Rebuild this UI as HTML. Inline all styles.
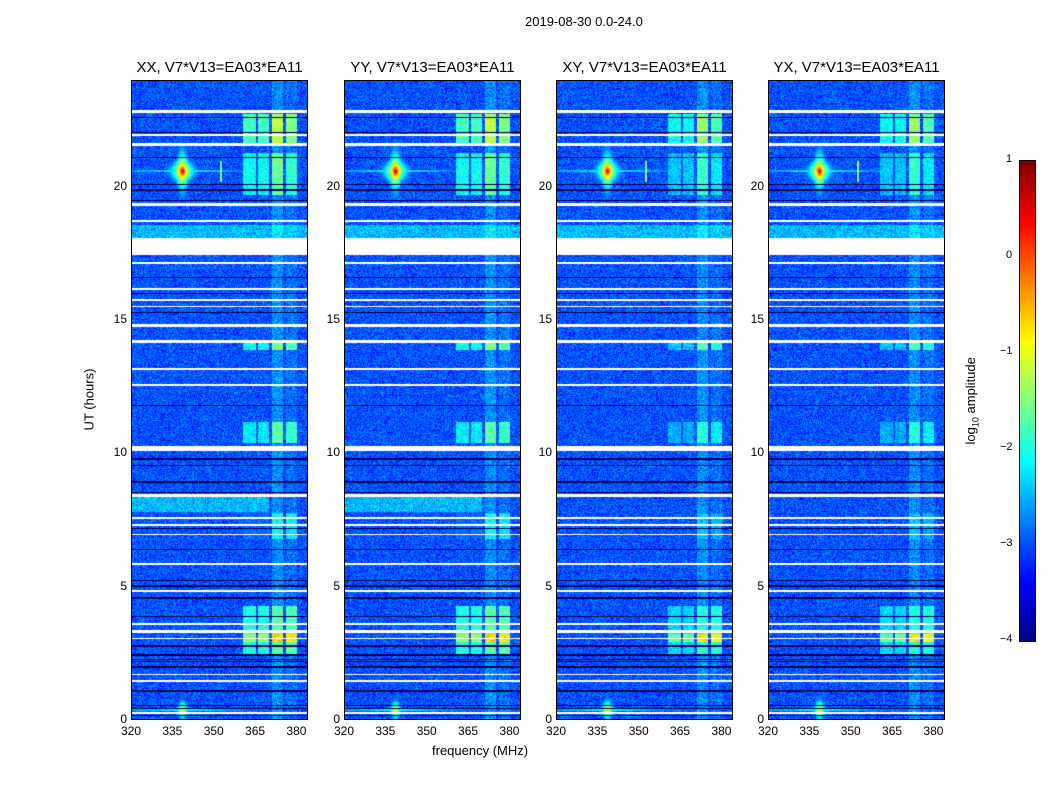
<!DOCTYPE html>
<html><head><meta charset="utf-8"><style>
body{margin:0;background:#fff;width:1050px;height:800px;position:relative;overflow:hidden;font-family:"Liberation Sans",sans-serif;color:#000}
.t{position:absolute;white-space:nowrap}
canvas{position:absolute}
.ax{position:absolute;border:1px solid #000;box-sizing:border-box}
</style></head><body>
<div class="t" style="left:525px;top:14px;font-size:13px">2019-08-30 0.0-24.0</div>
<div class="t" style="left:432px;top:743px;font-size:13px">frequency (MHz)</div>
<div class="t" style="left:58px;top:392px;font-size:13px;transform:rotate(-90deg)">UT (hours)</div>
<div id="root"></div>
<script>
const hours=[0,5,10,15,20];
const freqTicks=[320,335,350,365,380];
const titles=["XX, V7*V13=EA03*EA11","YY, V7*V13=EA03*EA11","XY, V7*V13=EA03*EA11","YX, V7*V13=EA03*EA11"];
const flagged=[[22.78,22.9],[21.92,21.98],[21.55,21.65],[19.3,19.4],[18.68,18.78],[17.45,18.1],[17.12,17.18],[16.15,16.2],[15.75,15.82],[15.5,15.55],[14.75,14.85],[14.15,14.25],[13.15,13.2],[12.55,12.6],[10.1,10.3],[8.38,8.48],[7.55,7.62],[7.3,7.35],[6.95,7.0],[5.85,5.9],[4.83,4.88],[3.6,3.65],[3.3,3.38],[3.05,3.1],[1.7,1.75],[1.45,1.5],[0.25,0.32]];
const darkRows=[22.6,22.05,21.1,20.1,19.9,19.5,16.6,16.0,15.3,11.8,9.8,9.55,8.95,8.55,7.2,6.4,5.25,5.05,4.6,3.9,2.8,2.45,2.3,2.2,2.0,1.1,0.55,0.45,0.18];
const bandLo=[360.6,366,370.8,375.9], bandHi=[365.3,369.7,375.1,380.2];
const activity=[[21.6,22.75,[-1.9,-1.9,-1.3,-1.6]],[19.7,21.3,[-2.2,-2.2,-1.7,-2.0]],[13.9,14.25,[-2.2,-2.2,-1.6,-1.8]],[10.4,11.2,[-2.3,-2.3,-1.8,-2.0]],[6.8,7.8,[-3,-3,-2.2,-2.3]],[2.4,4.3,[-2.1,-2.1,-1.8,-1.8]],[2.95,3.25,[-1.5,-1.5,-0.8,-0.9]]];
const polScale=[1,1,0.85,0.85];
const srcFreq=338.5, srcHours=[20.6,0.4], srcPeak=[0.4,-0.8];
const panelX=[131,344,556,768], PT=80, PW=177, PH=640;
const fx=f=>(f-320)*PW/64.2, hy=h=>PH-h*PH/24;
function jet(v){let x=Math.max(0,Math.min(1,(v+4)/5));const c=q=>Math.round(255*Math.max(0,Math.min(1,1.5-Math.abs(4*x-q))));return [c(3),c(2),c(1)];}
function hash(a,b){let h=(a*374761393+b*668265263)|0;h=(h^(h>>>13))*1274126177|0;return ((h^(h>>>16))>>>0)/4294967295;}
const root=document.getElementById('root');
titles.forEach((t,p)=>{
 const cv=document.createElement('canvas');
 
 
 cv.width=PW;cv.height=PH;cv.style.left=panelX[p]+'px';cv.style.top=PT+'px';
 const ctx=cv.getContext('2d');const img=ctx.createImageData(PW,PH);
 for(let y=0;y<PH;y++){const h=(PH-y)*24/PH;
  for(let x=0;x<PW;x++){const f=320+x*64.2/PW;
   let v=-3.35+hash(x+p*999,y)*0.75;
   if(f>370.8&&f<375.1)v+=0.3;if(f>375.9&&f<380.2)v+=0.15;
   if(p<2&&h>7.8&&h<8.4&&f<370)v+=0.5;
   if(h>18.1&&h<18.6)v+=0.5;
   activity.forEach(a=>{if(h>a[0]&&h<a[1])for(let b=0;b<4;b++)if(f>bandLo[b]&&f<bandHi[b]){const t=a[2][b]*(2-polScale[p])-0.2+hash(x,y+7)*0.6;if(t>v)v=t;}});
   srcHours.forEach((sh,i)=>{const dx=(f-srcFreq)/0.55,dy=(h-sh)/0.1;const s=srcPeak[i]*polScale[p]-1.7*Math.log10(1+dx*dx+dy*dy)-0.04*Math.min(dx*dx,dy*dy)+hash(x+3,y)*0.3;const line=(Math.abs(h-sh)<0.05)?-2.3-Math.abs(f-srcFreq)*0.03+hash(x,y)*0.4:-9;v=Math.max(v,s,line);});
   if(p!==1&&f>352&&f<352.8&&h>20.2&&h<21)v=Math.max(v,-1.5);
   let rgb=jet(v);
   darkRows.forEach(r=>{if(Math.abs(h-r)<0.025)rgb=[0,0,80];});
   flagged.forEach(r=>{if(h>=r[0]&&h<=r[1])rgb=[255,255,255];});
   const k=(y*PW+x)*4;img.data[k]=rgb[0];img.data[k+1]=rgb[1];img.data[k+2]=rgb[2];img.data[k+3]=255;}}
 ctx.putImageData(img,0,0);root.appendChild(cv);
 const ax=document.createElement('div');ax.className='ax';
 
 
 ax.style.cssText+=`left:${panelX[p]}px;top:${PT}px;width:${PW}px;height:${PH}px`;root.appendChild(ax);
 const ti=document.createElement('div');ti.className='t';ti.textContent=t;
 
 
 ti.style.cssText+=`left:${panelX[p]-4}px;top:59px;font-size:15px;width:${PW+8}px;text-align:center`;root.appendChild(ti);
 hours.forEach(hv=>{const l=document.createElement('div');l.className='t';l.textContent=hv;
  
  
  l.style.cssText+=`left:${panelX[p]-30}px;width:26px;text-align:right;top:${PT+hy(hv)-8}px;font-size:12px`;root.appendChild(l);});
 freqTicks.forEach(fv=>{const l=document.createElement('div');l.className='t';l.textContent=fv;
  
  
  l.style.cssText+=`left:${panelX[p]+fx(fv)-15}px;width:30px;text-align:center;top:724px;font-size:12px`;root.appendChild(l);});
});
const cbTicks=[1,0,-1,-2,-3,-4];
const cb=document.createElement('canvas');cb.width=15;cb.height=480;


cb.style.left='1019px';cb.style.top='160px';cb.style.border='1px solid #000';cb.style.boxSizing='border-box';
const cc=cb.getContext('2d');for(let y=0;y<480;y++){const c=jet(1-y*5/480);cc.fillStyle=`rgb(${c})`;cc.fillRect(0,y,15,1);}
root.appendChild(cb);
cbTicks.forEach(v=>{const l=document.createElement('div');l.className='t';l.textContent=v<0?'\u2212'+(-v):v;
 
 
 l.style.cssText+=`left:${v<0?1000:1006}px;top:${160+(1-v)*96-7}px;font-size:11px`;root.appendChild(l);});
</script>
<div class="t" style="left:928px;top:392px;font-size:13px;transform:rotate(-90deg)">log<sub style="font-size:9px">10</sub> amplitude</div>
</body></html>
